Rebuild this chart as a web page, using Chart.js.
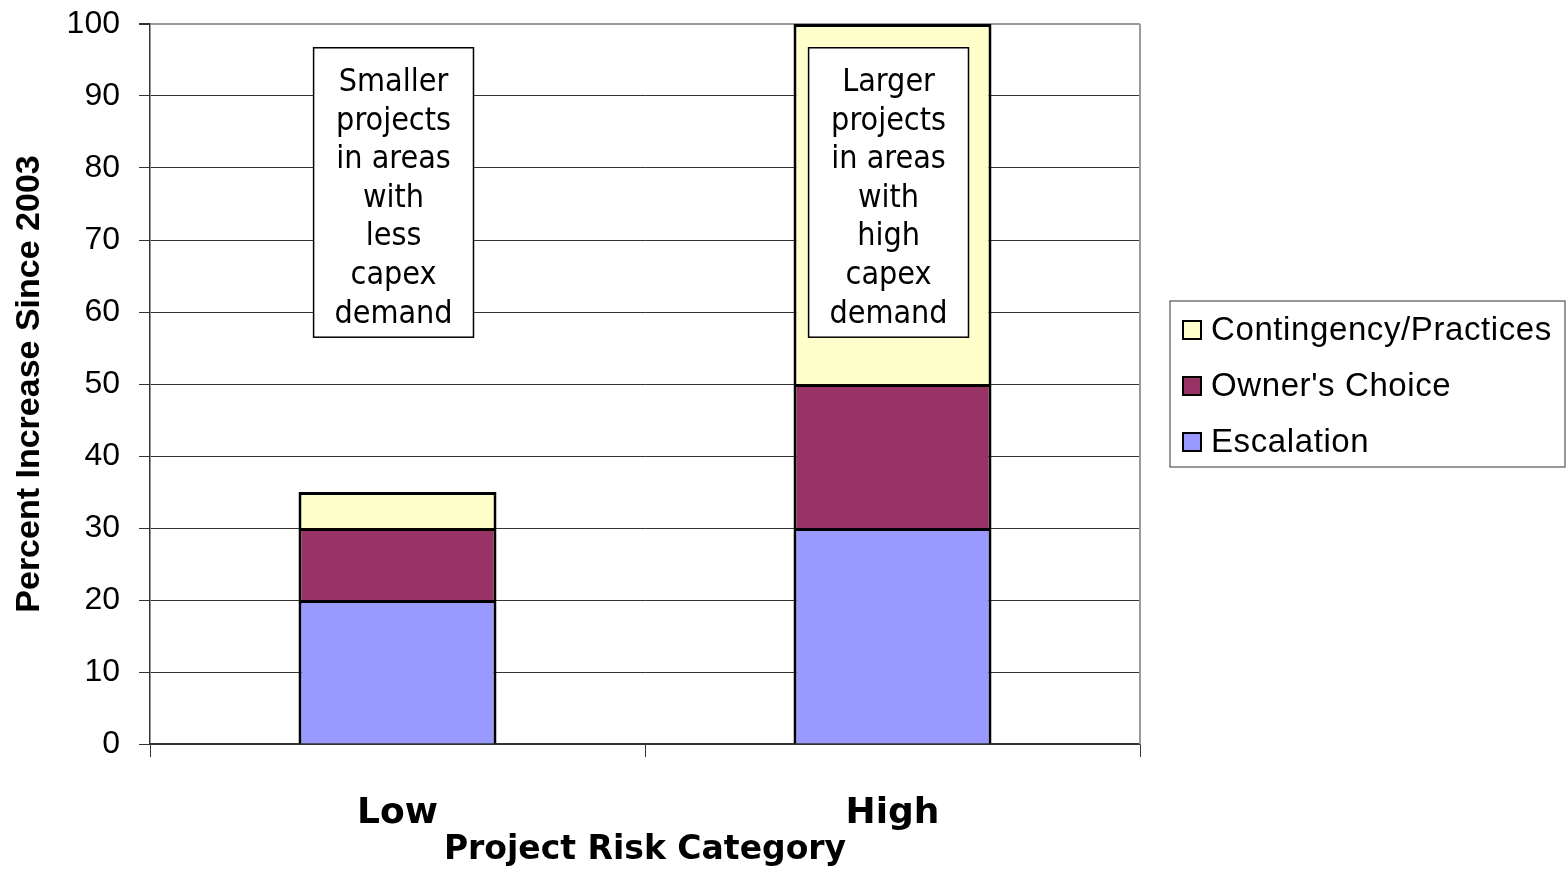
<!DOCTYPE html>
<html>
<head>
<meta charset="utf-8">
<title>Percent Increase Since 2003 by Project Risk Category</title>
<script src="https://cdn.jsdelivr.net/npm/chart.js@4/dist/chart.umd.min.js"></script>
<style>
  html, body { margin: 0; padding: 0; background: #ffffff; }
  #wrap { width: 1568px; height: 870px; position: relative; }
</style>
</head>
<body>
<div id="wrap"><canvas id="chart" width="1568" height="870"></canvas></div>
<script>
// Categories and stacked components (percent increase since 2003)
const categories = ['Low', 'High'];
const escalation = [20, 30];
const ownersChoice = [10, 20];
const contingency = [5, 50];

// Call-out text placed over each bar
const lowNote = ['Smaller', 'projects', 'in areas', 'with', 'less', 'capex', 'demand'];
const highNote = ['Larger', 'projects', 'in areas', 'with', 'high', 'capex', 'demand'];
const notes = [lowNote, highNote];

// Y axis
const yMin = 0, yMax = 100, yStep = 10;

const GRID = '#333333';
const FRAME = '#9a9a9a';

// Plot frame: grey right edge of the plot area
const framePlugin = {
  id: 'frame',
  beforeDatasetsDraw(chart) {
    const { ctx, chartArea: a } = chart;
    ctx.save();
    ctx.strokeStyle = FRAME;
    ctx.lineWidth = 2;
    ctx.beginPath();
    ctx.moveTo(a.right, a.top);
    ctx.lineTo(a.right, a.bottom);
    ctx.stroke();
    ctx.restore();
  }
};

// Boxed notes drawn on top of the bars, anchored to the scales
const notePlugin = {
  id: 'notes',
  afterDatasetsDraw(chart, args, opts) {
    const { ctx, scales: { x, y } } = chart;
    const catW = x.getPixelForValue(1) - x.getPixelForValue(0);
    ctx.save();
    ctx.font = opts.font;
    ctx.textAlign = 'center';
    ctx.textBaseline = 'middle';
    notes.forEach((lines, i) => {
      const cx = x.getPixelForValue(i) + opts.shift * catW;
      const w = opts.width * catW;
      const top = y.getPixelForValue(opts.top);
      const bottom = y.getPixelForValue(opts.bottom);
      ctx.fillStyle = '#ffffff';
      ctx.fillRect(cx - w / 2, top, w, bottom - top);
      ctx.strokeStyle = '#000000';
      ctx.lineWidth = 1.5;
      ctx.strokeRect(cx - w / 2, top, w, bottom - top);
      ctx.fillStyle = '#000000';
      const mid = (top + bottom) / 2 + 6;
      lines.forEach((t, k) => {
        ctx.fillText(t, cx, mid + (k - (lines.length - 1) / 2) * opts.lineGap);
      });
    });
    ctx.restore();
  }
};

// Legend in an outlined box, listed top-down in reverse stacking order
const boxLegendPlugin = {
  id: 'boxLegend',
  afterDraw(chart, args, opts) {
    const { ctx } = chart;
    const ds = chart.data.datasets.slice().reverse();
    ctx.save();
    ctx.strokeStyle = '#555555';
    ctx.lineWidth = 1.2;
    ctx.strokeRect(opts.left, opts.top, opts.width, opts.height);
    ctx.font = opts.font;
    if ('letterSpacing' in ctx) ctx.letterSpacing = opts.spacing;
    ctx.textBaseline = 'middle';
    ctx.textAlign = 'left';
    ds.forEach((d, i) => {
      const cy = opts.top + opts.firstRow + i * opts.rowGap;
      ctx.fillStyle = d.backgroundColor;
      ctx.fillRect(opts.left + 13, cy - 9, 18, 18);
      ctx.strokeStyle = '#000000';
      ctx.lineWidth = 2;
      ctx.strokeRect(opts.left + 13, cy - 9, 18, 18);
      ctx.fillStyle = '#000000';
      ctx.fillText(d.label, opts.left + 41, cy + 1);
    });
    ctx.restore();
  }
};

new Chart(document.getElementById('chart'), {
  type: 'bar',
  data: {
    labels: categories,
    datasets: [
      { label: 'Escalation', data: escalation, backgroundColor: '#9999ff' },
      { label: "Owner's Choice", data: ownersChoice, backgroundColor: '#993366' },
      { label: 'Contingency/Practices', data: contingency, backgroundColor: '#ffffcc' }
    ].map(d => Object.assign(d, {
      borderColor: '#000000',
      borderWidth: { top: 3, left: 3, right: 3, bottom: 0 },
      borderSkipped: false,
      barPercentage: 0.4,
      categoryPercentage: 1.0
    }))
  },
  options: {
    responsive: false,
    animation: false,
    devicePixelRatio: 1,
    layout: { padding: { top: 24, right: 428, left: 0, bottom: 0 } },
    plugins: {
      legend: { display: false },
      tooltip: { enabled: false },
      notes: {
        font: '32px "DejaVu Sans Condensed", "DejaVu Sans"',
        top: 96.7,
        bottom: 56.5,
        width: 0.323,
        shift: -0.008,
        lineGap: 38.6
      },
      boxLegend: {
        left: 1170, top: 301, width: 395, height: 166,
        firstRow: 29, rowGap: 56,
        font: '33px "Liberation Sans"',
        spacing: '0.6px'
      }
    },
    scales: {
      x: {
        stacked: true,
        offset: true,
        grid: {
          offset: true,
          drawOnChartArea: false,
          drawTicks: true,
          tickLength: 13,
          color: GRID,
          lineWidth: 1
        },
        border: { display: true, color: GRID, width: 1.5 },
        ticks: {
          color: '#000000',
          padding: 35,
          font: { family: '"DejaVu Sans"', size: 36, weight: 'bold' }
        },
        title: {
          display: true,
          text: 'Project Risk Category',
          color: '#000000',
          padding: { top: 0, bottom: 0 },
          font: { family: '"DejaVu Sans"', size: 33, weight: 'bold' }
        },
        afterFit(scale) {
          scale.height = 126;
          scale.paddingLeft = 0;
          scale.paddingRight = 0;
        }
      },
      y: {
        stacked: true,
        min: yMin,
        max: yMax,
        grid: {
          color: ctx => (ctx.tick && ctx.tick.value === yMax ? FRAME : GRID),
          tickColor: GRID,
          lineWidth: ctx => (ctx.tick && ctx.tick.value === yMax ? 2 : 1),
          tickLength: 11
        },
        border: { display: true, color: GRID, width: 1.5 },
        ticks: {
          stepSize: yStep,
          color: '#000000',
          padding: 19,
          font: { family: '"Liberation Sans"', size: 32 }
        },
        title: {
          display: true,
          text: 'Percent Increase Since 2003',
          color: '#000000',
          padding: { top: 9, bottom: 0 },
          font: { family: '"Liberation Sans"', size: 34, weight: 'bold' }
        },
        afterFit(scale) {
          scale.width = 150;
          scale.paddingTop = 0;
          scale.paddingBottom = 0;
        }
      }
    }
  },
  plugins: [framePlugin, notePlugin, boxLegendPlugin]
});
</script>
</body>
</html>
